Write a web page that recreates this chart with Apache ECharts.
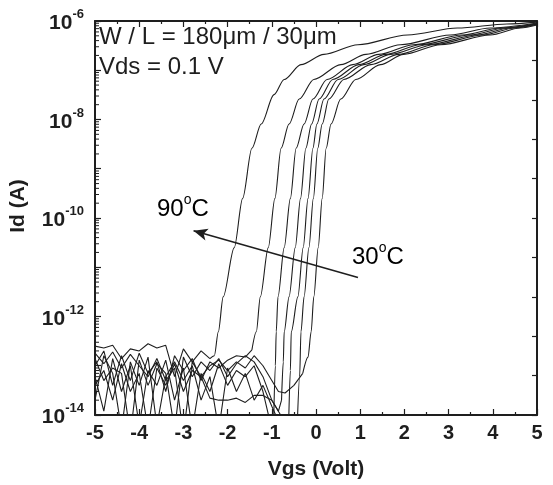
<!DOCTYPE html>
<html>
<head>
<meta charset="utf-8">
<title>Id-Vgs</title>
<script src="https://cdn.jsdelivr.net/npm/echarts@6.0.0/dist/echarts.min.js"></script>
<style>
  html, body { margin: 0; padding: 0; background: #fff; }
  #chart { width: 553px; height: 485px; }
</style>
</head>
<body>
<div id="chart"></div>
<script>
// Vgs (V), Id (A); "off" = noise floor, "on" = turn-on branch
const off90 = [[-5.0, 2.5e-13], [-4.8, 2.3e-13], [-4.6, 2.6e-13], [-4.4, 1.4e-13], [-4.2, 2.2e-13], [-4.0, 2.0e-13], [-3.8, 2.8e-13], [-3.6, 2.3e-13], [-3.4, 2.6e-13], [-3.2, 6e-14], [-3.0, 2.2e-13], [-2.8, 1.2e-13], [-2.6, 2.0e-13], [-2.4, 1.4e-13]];
const on90 = [[-2.4, 1.4e-13], [-2.3, 1.6e-13], [-2.21, 4.9e-13], [-2.10, 2.5e-12], [-1.85, 2.5e-11], [-1.66, 2.5e-10], [-1.45, 2.6e-9], [-1.24, 8.1e-9], [-0.95, 3.2e-8], [-0.72, 6.5e-8], [-0.34, 1.3e-7], [0.18, 2.1e-7], [0.95, 3.3e-7], [2.07, 5.2e-7], [3.20, 7.2e-7], [4.32, 8.7e-7], [5.0, 9.5e-7]];

const off80 = [[-5.0, 1.0e-13], [-4.8, 2.0e-13], [-4.6, 4e-14], [-4.4, 1.6e-13], [-4.2, 5e-14], [-4.0, 1.8e-13], [-3.8, 7e-14], [-3.6, 1.2e-13], [-3.4, 3e-14], [-3.2, 1.6e-13], [-3.0, 8e-14], [-2.8, 1.4e-13], [-2.6, 5e-14], [-2.4, 1.2e-13], [-2.2, 9e-14], [-2.0, 1.3e-13], [-1.8, 1.6e-13], [-1.6, 1.5e-13], [-1.45, 2.1e-13]];
const on80 = [[-1.45, 2.1e-13], [-1.35, 4.9e-13], [-1.26, 2.5e-12], [-1.08, 2.5e-11], [-0.93, 2.5e-10], [-0.79, 2.6e-9], [-0.61, 8.1e-9], [-0.38, 2.6e-8], [-0.05, 6.5e-8], [0.56, 1.3e-7], [1.13, 2.1e-7], [1.91, 3.3e-7], [3.04, 5.2e-7], [3.94, 7.2e-7], [5.0, 9.1e-7]];

const off70 = [[-5.0, 6e-14], [-4.8, 1.2e-14], [-4.6, 1.4e-13], [-4.4, 3e-14], [-4.2, 1.0e-13], [-4.0, 6e-15], [-3.8, 8e-14], [-3.6, 4e-14], [-3.4, 1.3e-13], [-3.2, 2e-14], [-3.0, 9e-14], [-2.8, 5e-15], [-2.6, 7e-14], [-2.4, 3e-14], [-2.2, 1.1e-13], [-2.0, 4e-14], [-1.8, 8e-14], [-1.6, 6e-14], [-1.4, 1.0e-13], [-1.2, 3e-14], [-1.05, 8e-15], [-0.96, 6e-15]];
const on70 = [[-0.96, 6e-15], [-0.92, 1.0e-13], [-0.90, 4.9e-13], [-0.86, 2.5e-12], [-0.72, 2.5e-11], [-0.58, 2.5e-10], [-0.45, 2.6e-9], [-0.27, 8.1e-9], [-0.07, 2.6e-8], [0.25, 6.5e-8], [0.83, 1.3e-7], [1.42, 2.1e-7], [2.21, 3.3e-7], [3.31, 5.2e-7], [4.17, 7.2e-7], [5.0, 8.9e-7]];

const off60 = [[-5.0, 4e-14], [-4.8, 8e-14], [-4.6, 2e-14], [-4.4, 1.1e-13], [-4.2, 3e-14], [-4.0, 7e-14], [-3.8, 5e-15], [-3.6, 9e-14], [-3.4, 4e-14], [-3.2, 1.1e-13], [-3.0, 3e-14], [-2.8, 8e-14], [-2.6, 6e-14], [-2.4, 2.2e-14], [-2.2, 2.0e-14], [-2.0, 2.0e-14], [-1.8, 2.2e-14], [-1.6, 1.8e-14], [-1.4, 2.5e-14], [-1.2, 2.5e-14], [-1.0, 2.0e-14], [-0.85, 1.2e-14], [-0.78, 2.0e-14]];
const on60 = [[-0.78, 2.0e-14], [-0.74, 1.2e-13], [-0.72, 4.9e-13], [-0.61, 2.5e-12], [-0.47, 2.5e-11], [-0.35, 2.5e-10], [-0.23, 2.6e-9], [-0.10, 8.1e-9], [0.07, 2.6e-8], [0.38, 6.5e-8], [0.97, 1.3e-7], [1.58, 2.1e-7], [2.36, 3.3e-7], [3.49, 5.2e-7], [4.28, 7.2e-7], [5.0, 8.7e-7]];

const off50 = [[-5.0, 2.0e-14], [-4.8, 1.6e-13], [-4.6, 7e-14], [-4.4, 5e-15], [-4.2, 1.2e-13], [-4.0, 4e-14], [-3.8, 1.5e-13], [-3.6, 6e-15], [-3.4, 6e-14], [-3.2, 1.2e-13], [-3.0, 5e-14], [-2.8, 1.0e-13], [-2.6, 2e-14], [-2.4, 6e-14], [-2.2, 5e-15], [-2.0, 9e-14], [-1.8, 3e-14], [-1.6, 7e-14], [-1.4, 2e-14], [-1.2, 4e-14], [-1.0, 1.5e-14], [-0.8, 6e-15], [-0.62, 6e-15]];
const on50 = [[-0.62, 6e-15], [-0.58, 8e-14], [-0.56, 4.9e-13], [-0.41, 2.5e-12], [-0.29, 2.5e-11], [-0.18, 2.5e-10], [-0.07, 2.6e-9], [0.02, 8.1e-9], [0.18, 2.6e-8], [0.50, 6.5e-8], [1.08, 1.3e-7], [1.69, 2.1e-7], [2.52, 3.3e-7], [3.65, 5.2e-7], [4.39, 7.2e-7], [5.0, 8.7e-7]];

const off40 = [[-5.0, 1.4e-13], [-4.8, 5e-14], [-4.6, 9e-14], [-4.4, 7e-14], [-4.2, 4e-15], [-4.0, 1.3e-13], [-3.8, 4e-14], [-3.6, 1.1e-13], [-3.4, 7e-14], [-3.2, 5e-15], [-3.0, 1.5e-13], [-2.8, 6e-14], [-2.6, 1.2e-13], [-2.4, 8e-14], [-2.2, 1.4e-13], [-2.0, 6e-14], [-1.8, 1.1e-13], [-1.6, 1.6e-13], [-1.4, 1.2e-13], [-1.2, 6e-14], [-1.0, 2e-14], [-0.8, 1.0e-14], [-0.6, 5e-15], [-0.42, 8e-15]];
const on40 = [[-0.42, 8e-15], [-0.37, 6e-14], [-0.34, 4.9e-13], [-0.27, 2.5e-12], [-0.16, 2.5e-11], [-0.06, 2.5e-10], [0.04, 2.6e-9], [0.14, 8.1e-9], [0.29, 2.6e-8], [0.63, 6.5e-8], [1.24, 1.3e-7], [1.87, 2.1e-7], [2.66, 3.3e-7], [3.78, 5.2e-7], [4.50, 7.2e-7], [5.0, 8.6e-7]];

const off30 = [[-5.0, 1.8e-13], [-4.8, 1.1e-13], [-4.6, 1.9e-13], [-4.4, 9e-14], [-4.2, 1.7e-13], [-4.0, 1.0e-13], [-3.8, 6e-14], [-3.6, 1.4e-13], [-3.4, 5e-14], [-3.2, 9e-14], [-3.0, 4e-15], [-2.8, 1.2e-13], [-2.6, 6e-14], [-2.4, 1.0e-13], [-2.2, 1.3e-13], [-2.0, 8e-14], [-1.8, 1.2e-13], [-1.6, 9e-14], [-1.4, 1.6e-13], [-1.2, 1.0e-13], [-1.0, 5e-14], [-0.85, 3e-14], [-0.7, 2.8e-14], [-0.5, 4e-14], [-0.3, 7e-14]];
const on30 = [[-0.3, 7e-14], [-0.18, 1.5e-13], [-0.11, 4.9e-13], [-0.05, 2.5e-12], [0.05, 2.5e-11], [0.14, 2.5e-10], [0.23, 2.6e-9], [0.34, 8.1e-9], [0.56, 2.6e-8], [0.90, 6.5e-8], [1.46, 1.3e-7], [1.98, 2.1e-7], [2.82, 3.3e-7], [3.94, 5.2e-7], [4.62, 7.2e-7], [5.0, 8.3e-7]];

const curves = [[off90, on90], [off80, on80], [off70, on70], [off60, on60], [off50, on50], [off40, on40], [off30, on30]];

// temperature arrow, tail -> head
const arrowFrom = [0.95, 6.2e-12];
const arrowTo = [-2.77, 5.5e-11];

const FONT = '"Liberation Sans", Arial, Helvetica, sans-serif';
const INK = '#1e1e1e';

// log minor ticks (2..9 x 10^n) on the left axis
const minorTickValues = [];
for (let n = -14; n < -6; n++) {
  for (let k = 2; k <= 9; k++) minorTickValues.push(k * Math.pow(10, n));
}

const chart = echarts.init(document.getElementById('chart'));

const series = [];
curves.forEach(([off, on], i) => {
  series.push({
    type: 'line', data: off, symbol: 'none', silent: true, animation: false,
    lineStyle: { color: INK, width: 1.1 }
  });
  const onSeries = {
    type: 'line', data: on, symbol: 'none', silent: true, animation: false,
    smooth: 0.3, smoothMonotone: 'x',
    lineStyle: { color: INK, width: 1.1 }
  };
  if (i === 0) {
    onSeries.markLine = {
      silent: true, animation: false,
      symbol: ['none', 'arrow'], symbolSize: [9, 14],
      label: { show: false },
      lineStyle: { color: INK, width: 1.5, type: 'solid' },
      data: [[{ coord: arrowFrom }, { coord: arrowTo }]]
    };
  }
  series.push(onSeries);
});

series.push({
  type: 'custom', silent: true, animation: false, clip: false,
  data: minorTickValues.map(v => [-5, v]),
  renderItem: (params, api) => {
    const p = api.coord([api.value(0), api.value(1)]);
    return {
      type: 'line',
      shape: { x1: p[0], y1: p[1], x2: p[0] + 4, y2: p[1] },
      style: { stroke: INK, lineWidth: 1 }
    };
  }
});

const tickLabel = { fontFamily: FONT, fontWeight: 'bold', color: INK };

chart.setOption({
  backgroundColor: '#fff',
  animation: false,
  grid: { left: 93, right: 16, top: 21, bottom: 66 },
  xAxis: [{
    type: 'value', min: -5, max: 5, interval: 1,
    name: 'Vgs (Volt)', nameLocation: 'middle', nameGap: 44,
    nameTextStyle: { fontFamily: FONT, fontWeight: 'bold', fontSize: 21, color: INK },
    axisLine: { onZero: false, lineStyle: { color: INK, width: 2 } },
    axisTick: { inside: true, length: 6, lineStyle: { color: INK, width: 1.2 } },
    minorTick: { show: true, splitNumber: 2, length: 3, lineStyle: { color: INK, width: 1.2 } },
    axisLabel: Object.assign({ fontSize: 20, margin: 8 }, tickLabel),
    splitLine: { show: false }
  }, {
    type: 'value', min: -5, max: 5, interval: 1, position: 'top',
    axisLine: { onZero: false, lineStyle: { color: INK, width: 2 } },
    axisTick: { inside: true, length: 6, lineStyle: { color: INK, width: 1.2 } },
    minorTick: { show: true, splitNumber: 2, length: 3, lineStyle: { color: INK, width: 1.2 } },
    axisLabel: { show: false },
    splitLine: { show: false }
  }],
  yAxis: [{
    type: 'log', logBase: 10, min: 1e-14, max: 1e-6, position: 'left',
    name: 'Id (A)', nameLocation: 'middle', nameGap: 66, nameRotate: 90,
    nameTextStyle: { fontFamily: FONT, fontWeight: 'bold', fontSize: 21, color: INK, padding: [0, 0, 0, 24] },
    axisLine: { show: true, onZero: false, lineStyle: { color: INK, width: 2 } },
    axisTick: { inside: true, length: 6, lineStyle: { color: INK, width: 1.2 } },
    axisLabel: {
      margin: 11,
      formatter: v => {
        const e = Math.round(Math.log10(v));
        return e % 2 === 0 ? '{b|10}{s|' + e + '}' : '';
      },
      rich: {
        b: Object.assign({ fontSize: 21, lineHeight: 26, verticalAlign: 'bottom' }, tickLabel),
        s: Object.assign({ fontSize: 13, lineHeight: 13, verticalAlign: 'top' }, tickLabel)
      }
    },
    splitLine: { show: false }
  }, {
    type: 'value', min: 0, max: 10, interval: 1, position: 'right',
    axisLine: { show: true, onZero: false, lineStyle: { color: INK, width: 2 } },
    axisTick: { inside: true, length: 5, lineStyle: { color: INK, width: 1.2 } },
    axisLabel: { show: false },
    splitLine: { show: false }
  }],
  graphic: [
    { type: 'text', silent: true, style: { x: 99, y: 37, text: 'W / L = 180\u03bcm / 30\u03bcm', font: '24px ' + FONT, fill: INK, textVerticalAlign: 'middle' } },
    { type: 'text', silent: true, style: { x: 99, y: 67, text: 'Vds = 0.1 V', font: '24px ' + FONT, fill: INK, textVerticalAlign: 'middle' } },
    { type: 'text', silent: true, style: {
        x: 157, y: 207, text: '{a|90}{o|o}{a|C}', textVerticalAlign: 'middle',
        rich: {
          a: { fontSize: 24, fontFamily: FONT, color: INK, lineHeight: 28, verticalAlign: 'bottom' },
          o: { fontSize: 14, fontFamily: FONT, color: INK, lineHeight: 14, verticalAlign: 'top' }
        }
      } },
    { type: 'text', silent: true, style: {
        x: 352, y: 255, text: '{a|30}{o|o}{a|C}', textVerticalAlign: 'middle',
        rich: {
          a: { fontSize: 24, fontFamily: FONT, color: INK, lineHeight: 28, verticalAlign: 'bottom' },
          o: { fontSize: 14, fontFamily: FONT, color: INK, lineHeight: 14, verticalAlign: 'top' }
        }
      } }
  ],
  series: series
});
</script>
</body>
</html>
